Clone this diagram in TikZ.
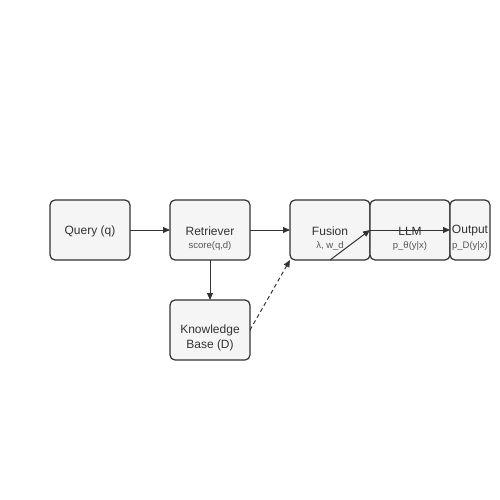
\documentclass[tikz,border=0pt]{standalone}
\usepackage{fontspec}
\setmainfont{Liberation Sans}
\usetikzlibrary{arrows.meta}
\usetikzlibrary{positioning}
\definecolor{boxfill}{HTML}{F5F5F5}
\definecolor{boxline}{HTML}{333333}
\definecolor{subtext}{HTML}{555555}
\tikzstyle{block} = [rectangle, draw=boxline, fill=boxfill, line width=1.2pt,
    rounded corners=5pt, minimum height=60pt, minimum width=80pt, inner sep=0pt, outer sep=0pt]
\tikzstyle{title} = [text=boxline, font=\fontsize{12}{14}\selectfont, align=center, inner sep=0pt]
\tikzstyle{subtitle} = [text=subtext, font=\fontsize{9.5}{11}\selectfont, inner sep=0pt]
\tikzstyle{line} = [draw=boxline, line width=1pt, -{Triangle[length=7pt,width=6pt]}]
\tikzstyle{dline} = [line, dash pattern=on 4pt off 3pt]

\begin{document}
\begin{tikzpicture}[x=1pt, y=1pt]
    \useasboundingbox (0,0) rectangle (500,-500);
    % Place nodes
    \node [block] (query) at (90,-230) {};
    \node [block, right=40pt of query] (ret) {};
    \node [block, right=40pt of ret] (fus) {};
    \node [block, right=0pt of fus] (llm) {};
    \node [block, right=0pt of llm, minimum width=40pt] (out) {};
    \node [block, below=40pt of ret] (kb) {};
    % Texts
    \node [title] (querytxt) at ([yshift=-1pt]query.center) {Query (q)};
    \node [title] (rettxt) at ([yshift=-1pt]ret.center) {Retriever};
    \node [subtitle] (retsub) at ([yshift=-16pt]ret.center) {score(q,d)};
    \node [title] (fustxt) at ([yshift=-1pt]fus.center) {Fusion};
    \node [subtitle] (fussub) at ([yshift=-16pt]fus.center) {λ, w\_d};
    \node [title] (llmtxt) at ([yshift=-1pt]llm.center) {LLM};
    \node [subtitle] (llmsub) at ([yshift=-16pt]llm.center) {p\_θ(y|x)};
    \node [title] (outtxt) at ([yshift=-1pt]out.center) {Output};
    \node [subtitle] (outsub) at ([yshift=-16pt]out.center) {p\_D(y|x)};
    \node [title, font=\fontsize{12}{15}\selectfont] (kbtxt) at ([yshift=-8pt]kb.center) {Knowledge\\Base (D)};
    % Draw edges
    \path [line] (query) -- (ret);
    \path [line] (ret) -- (fus);
    \path [line] (ret) -- (kb);
    \path [dline] (kb.east) -- (fus.south west);
    \path [line] (fus.south) -- (llm.west);
    \path [line] (llm.west) -- (out.west);
\end{tikzpicture}
\end{document}
